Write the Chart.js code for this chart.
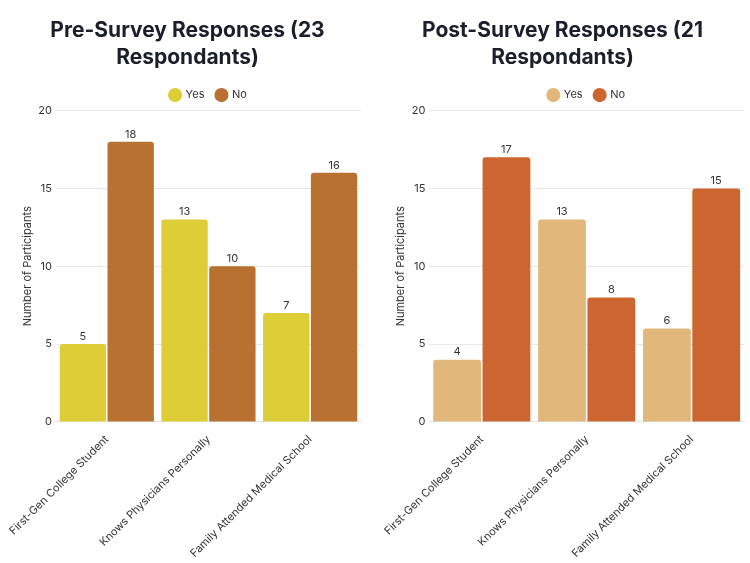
<!DOCTYPE html>
<html>
<head>
<meta charset="utf-8">
<script src="https://cdn.jsdelivr.net/npm/chart.js@4.4.1/dist/chart.umd.min.js"></script>
<style>
  body { margin: 0; background: #fff; }
  .wrap { display: flex; width: 750px; height: 563px; }
  canvas { display: block; }
</style>
</head>
<body>
<div class="wrap">
  <canvas id="pre" width="375" height="563"></canvas>
  <canvas id="post" width="375" height="563"></canvas>
</div>
<script>
const categories = [
  "First-Gen College Student",
  "Knows Physicians Personally",
  "Family Attended Medical School",
];
const preYes = [5, 13, 7];
const preNo = [18, 10, 16];
const postYes = [4, 13, 6];
const postNo = [17, 8, 15];
const yTicks = [0, 5, 10, 15, 20];

const FONT = "Inter, 'DejaVu Sans', sans-serif";

// draws the value above each bar
const barValues = {
  id: "barValues",
  afterDatasetsDraw(chart) {
    const ctx = chart.ctx;
    ctx.save();
    ctx.font = "11px " + FONT;
    ctx.fillStyle = "#333";
    ctx.textAlign = "center";
    ctx.textBaseline = "bottom";
    chart.data.datasets.forEach((ds, i) => {
      chart.getDatasetMeta(i).data.forEach((bar, j) => {
        ctx.fillText(ds.data[j], bar.x, bar.y - 2);
      });
    });
    ctx.restore();
  },
};

// legend centred over the plot area, title centred over the canvas
const recentre = {
  id: "recentre",
  afterLayout(chart) {
    const lg = chart.legend;
    const shift = (chart.chartArea.left + chart.chartArea.right) / 2 - (lg.left + lg.right) / 2;
    lg.left += shift;
    lg.right += shift;
    lg.legendHitBoxes.forEach((b) => { b.left += shift; });
    const tb = chart.titleBlock;
    const tShift = chart.width / 2 - (tb.left + tb.right) / 2;
    tb.left += tShift;
    tb.right += tShift;
  },
};

function makeChart(id, title, yes, no, colours, padding) {
  new Chart(document.getElementById(id), {
    type: "bar",
    data: {
      labels: categories,
      datasets: [
        { label: "Yes", data: yes, backgroundColor: colours[0] },
        { label: "No", data: no, backgroundColor: colours[1] },
      ],
    },
    options: {
      responsive: false,
      animation: false,
      layout: { padding: padding },
      datasets: {
        bar: {
          categoryPercentage: 0.94,
          barPercentage: 0.97,
          borderRadius: 3,
          borderSkipped: "bottom",
        },
      },
      plugins: {
        title: {
          display: true,
          text: title,
          color: "#1b1e2b",
          font: { family: FONT, size: 21, weight: "bold", lineHeight: 1.3 },
          padding: { top: 0, bottom: 6 },
        },
        legend: {
          labels: {
            usePointStyle: true,
            pointStyle: "circle",
            boxWidth: 10,
            boxHeight: 10,
            padding: 12,
            color: "#333",
            font: { family: FONT, size: 11 },
          },
        },
        tooltip: { enabled: false },
      },
      scales: {
        x: {
          grid: { display: false },
          border: { color: "#e5e5e5" },
          ticks: {
            color: "#333",
            font: { family: FONT, size: 11 },
            maxRotation: 45,
            minRotation: 45,
          },
        },
        y: {
          min: yTicks[0],
          max: yTicks[yTicks.length - 1],
          afterBuildTicks: (axis) => {
            axis.ticks = yTicks.map((v) => ({ value: v }));
          },
          grid: { color: "#e8e8e8", drawTicks: false },
          border: { display: false },
          ticks: {
            color: "#333",
            font: { family: FONT, size: 11 },
            padding: 4,
          },
          title: {
            display: true,
            text: "Number of Participants",
            color: "#333",
            font: { family: FONT, size: 11 },
            padding: { top: 0, bottom: 0 },
          },
        },
      },
    },
    plugins: [barValues, recentre],
  });
}

makeChart("pre", ["Pre-Survey Responses (23", "Respondants)"], preYes, preNo,
  ["#ddcd36", "#b87130"], { top: 17, left: 16, right: 14, bottom: 0 });
makeChart("post", ["Post-Survey Responses (21", "Respondants)"], postYes, postNo,
  ["#e2b77c", "#cc6530"], { top: 17, left: 16, right: 6, bottom: 0 });
</script>
</body>
</html>
